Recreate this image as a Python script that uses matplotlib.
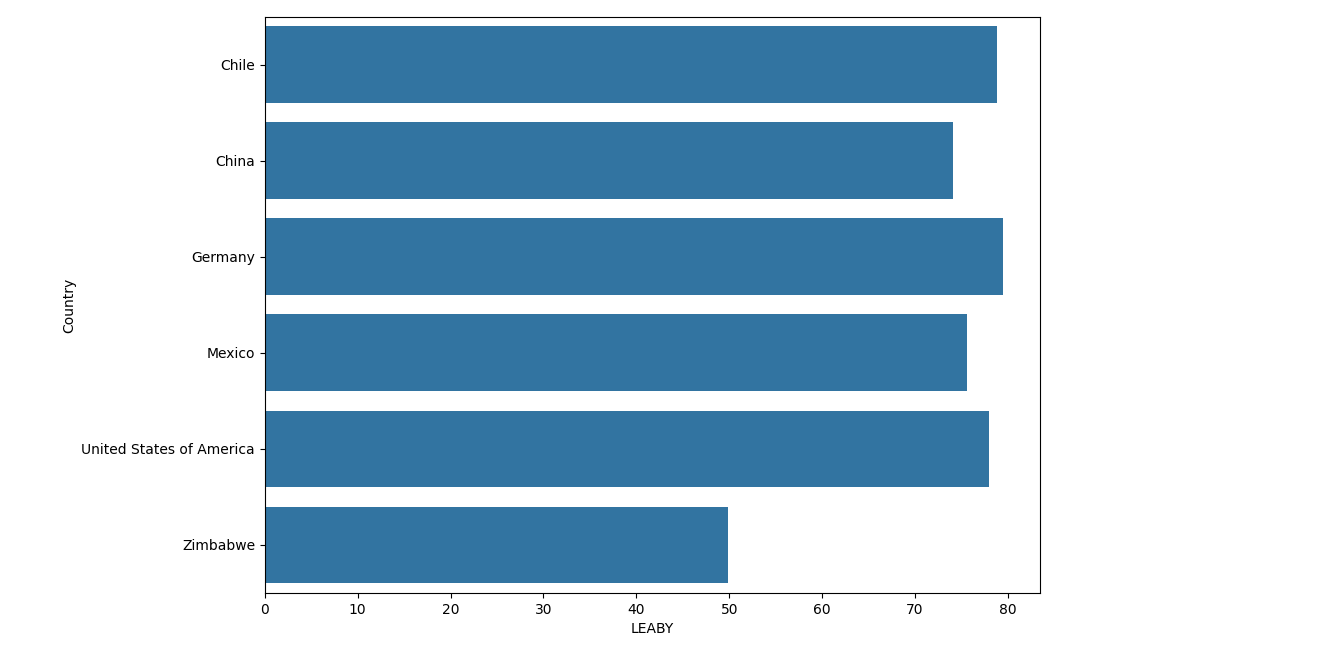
import matplotlib
matplotlib.use("Agg")
import matplotlib.pyplot as plt
import seaborn as sns
import pandas as pd

countries = ["Chile", "China", "Germany", "Mexico", "United States of America", "Zimbabwe"]
leaby = [78.8, 74.1, 79.5, 75.6, 78.0, 49.9]

df = pd.DataFrame({"Country": countries, "LEABY": leaby})
fig = plt.figure(figsize=(13.37, 6.72), dpi=100)
ax = fig.add_axes([0.198, 0.1176, 0.58, 0.8574])
sns.barplot(data=df, x="LEABY", y="Country", ax=ax)
fig.savefig("out.png", dpi=100)
